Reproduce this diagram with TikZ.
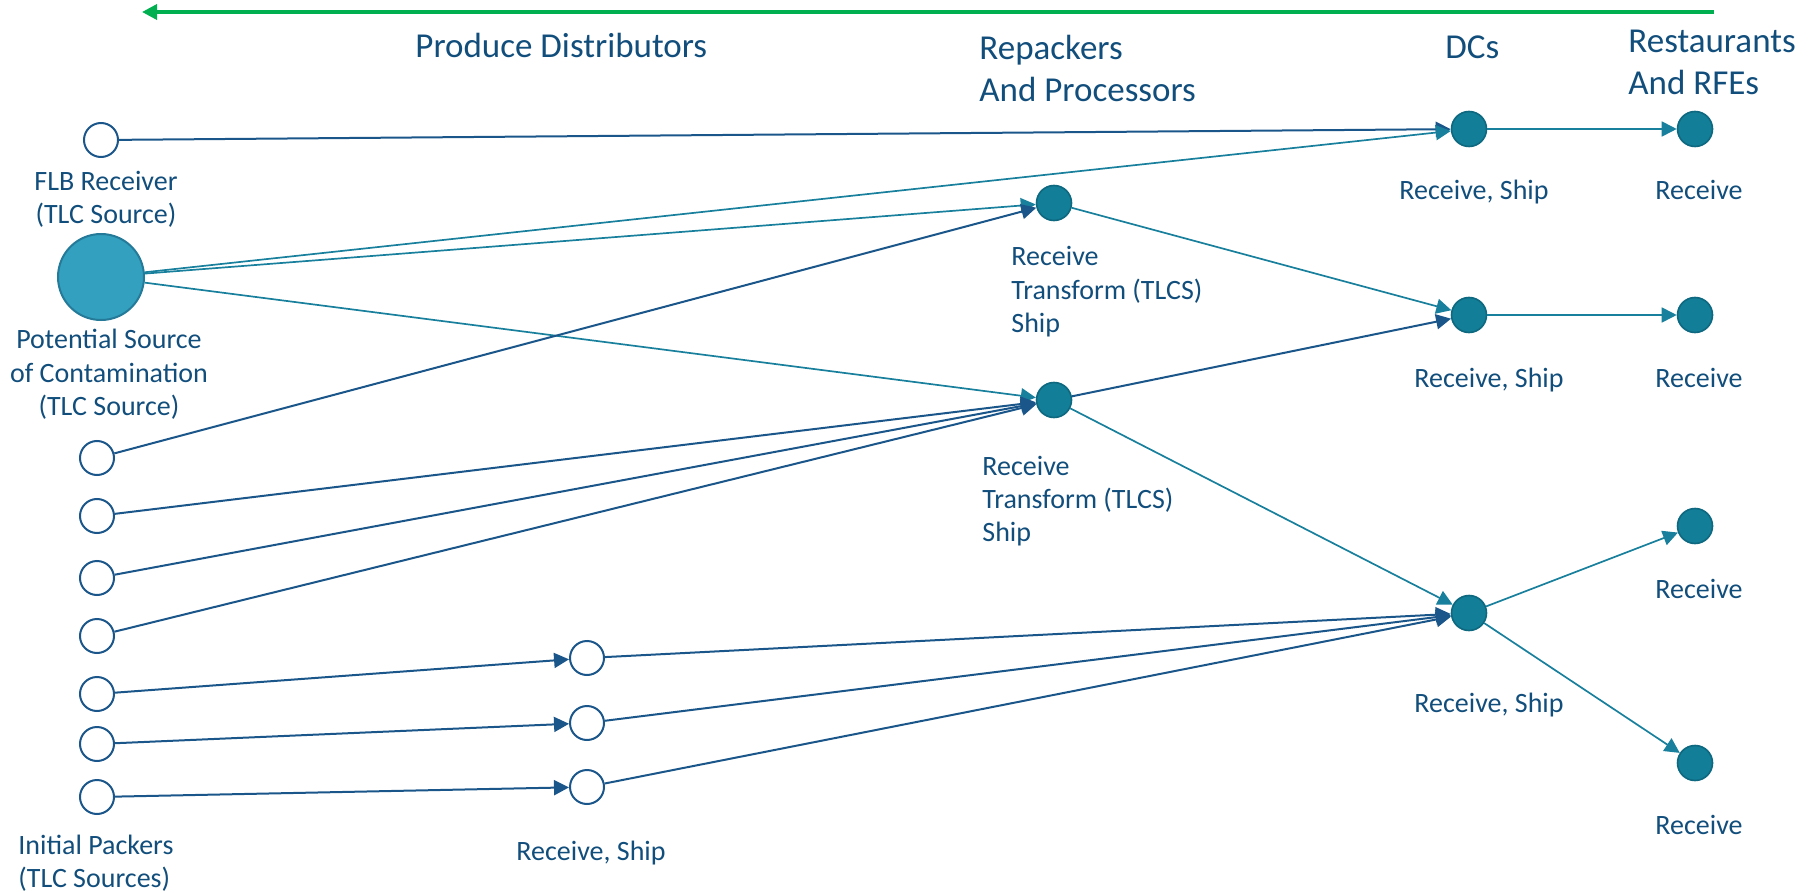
\documentclass[tikz,border=0pt]{standalone}
\usepackage{fontspec}
\setmainfont{Carlito}
\usepackage{xcolor}
\usepackage{tikz}
\usetikzlibrary{arrows.meta}

\begin{document}
\begin{tikzpicture}[x=0.5pt, y=-0.5pt]
    % --- GLOBAL DEFINITIONS ---
    % Custom colors
    \definecolor{textblue}{RGB}{18, 78, 124}
    \definecolor{linkblue}{RGB}{27, 86, 138}
    \definecolor{linkteal}{RGB}{24, 128, 156}
    \definecolor{nodeteal}{RGB}{18, 126, 151}
    \definecolor{nodeedge}{RGB}{14, 104, 128}
    \definecolor{sourcefill}{RGB}{50, 160, 190}
    \definecolor{sourceedge}{RGB}{36, 122, 152}
    \definecolor{flowgreen}{RGB}{0, 176, 80}

    % Node shapes, links and text
    \tikzset{
        opennode/.style={circle, draw=linkblue, fill=white, line width=1pt, minimum size=17pt, inner sep=0pt},
        fullnode/.style={circle, draw=nodeedge, fill=nodeteal, line width=0.8pt, minimum size=17.5pt, inner sep=0pt},
        sourcenode/.style={circle, draw=sourceedge, fill=sourcefill, line width=1pt, minimum size=43pt, inner sep=0pt},
        darklink/.style={-{Triangle[length=7.5pt, width=7.5pt]}, draw=linkblue, fill=linkblue, line width=1pt},
        teallink/.style={-{Triangle[length=7.5pt, width=7.5pt]}, draw=linkteal, fill=linkteal, line width=0.85pt},
        flowarrow/.style={-{Triangle[length=7.5pt, width=7.5pt]}, draw=flowgreen, fill=flowgreen, line width=1.75pt},
        label/.style={text=textblue, inner sep=0pt, font=\fontsize{14}{16.5}\selectfont},
        header/.style={text=textblue, inner sep=0pt, font=\fontsize{17.5}{21.2}\selectfont}
    }

    \useasboundingbox (0,0) rectangle (1820,893);

    % FLOW DIRECTION
    \coordinate (flowR) at (1714,12);
    \coordinate (flowL) at (142,12);
    \draw[flowarrow] (flowR) -- (flowL);

    % HEADERS (base = last line)
    \node[header, anchor=base west] (hdprod) at (415,58) {Produce Distributors};
    \node[header, anchor=base west, align=left] (hdrep) at (979,102) {Repackers\\And Processors};
    \node[header, anchor=base west] (hddc) at (1445,59) {DCs};
    \node[header, anchor=base west, align=left] (hdrest) at (1628,95) {Restaurants\\And RFEs};

    % SOURCES
    \node[opennode] (flb) at (101,140) {};
    \node[sourcenode] (src) at (101,277) {};
    \node[opennode] (pk1) at (97,458) {};
    \node[opennode] (pk2) at (97,516) {};
    \node[opennode] (pk3) at (97,578) {};
    \node[opennode] (pk4) at (97,636) {};
    \node[opennode] (pk5) at (97,694) {};
    \node[opennode] (pk6) at (97,744) {};
    \node[opennode] (pk7) at (97,797) {};

    % PRODUCE DISTRIBUTORS
    \node[opennode] (rs1) at (587,658) {};
    \node[opennode] (rs2) at (587,723) {};
    \node[opennode] (rs3) at (587,787) {};

    % REPACKERS
    \node[fullnode] (rp1) at (1054,203) {};
    \node[fullnode] (rp2) at (1054,400) {};

    % DCS
    \node[fullnode] (dc1) at (1469,129) {};
    \node[fullnode] (dc2) at (1469,315) {};
    \node[fullnode] (dc3) at (1469,613) {};

    % RESTAURANTS
    \node[fullnode] (rt1) at (1695,129) {};
    \node[fullnode] (rt2) at (1695,315) {};
    \node[fullnode] (rt3) at (1695,526) {};
    \node[fullnode] (rt4) at (1695,763) {};

    % LINKS
    \draw[darklink] (flb) -- (dc1);
    \draw[teallink] (src) -- (dc1);
    \draw[teallink] (src) -- (rp1);
    \draw[teallink] (src) -- (rp2);
    \draw[darklink] (pk1) -- (rp1);
    \draw[darklink] (pk2) -- (rp2);
    \draw[darklink] (pk3) -- (rp2);
    \draw[darklink] (pk4) -- (rp2);
    \draw[darklink] (pk5) -- (rs1);
    \draw[darklink] (pk6) -- (rs2);
    \draw[darklink] (pk7) -- (rs3);
    \draw[darklink] (rs1) -- (dc3);
    \draw[darklink] (rs2) -- (dc3);
    \draw[darklink] (rs3) -- (dc3);
    \draw[teallink] (rp1) -- (dc2);
    \draw[darklink] (rp2) -- (dc2);
    \draw[teallink] (rp2) -- (dc3);
    \draw[teallink] (dc1) -- (rt1);
    \draw[teallink] (dc2) -- (rt2);
    \draw[teallink] (dc3) -- (rt3);
    \draw[teallink] (dc3) -- (rt4);

    % LABELS (base = last line)
    \node[label, anchor=base, align=center] (lbflb) at (106,224) {FLB Receiver\\(TLC Source)};
    \node[label, anchor=base, align=center] (lbsrc) at (109,415) {Potential Source\\of Contamination\\(TLC Source)};
    \node[label, anchor=base west, align=left] (lbpk) at (18,887) {Initial Packers\\(TLC Sources)};
    \node[label, anchor=base] (lbrs) at (591,860) {Receive, Ship};
    \node[label, anchor=base west, align=left] (lbrp1) at (1011,332) {Receive\\Transform (TLCS)\\Ship};
    \node[label, anchor=base west, align=left] (lbrp2) at (982,541) {Receive\\Transform (TLCS)\\Ship};
    \node[label, anchor=base] (lbdc1) at (1474,200) {Receive, Ship};
    \node[label, anchor=base] (lbdc2) at (1489,387) {Receive, Ship};
    \node[label, anchor=base] (lbdc3) at (1489,712) {Receive, Ship};
    \node[label, anchor=base] (lbrt1) at (1699,200) {Receive};
    \node[label, anchor=base] (lbrt2) at (1699,387) {Receive};
    \node[label, anchor=base] (lbrt3) at (1699,598) {Receive};
    \node[label, anchor=base] (lbrt4) at (1699,834) {Receive};
\end{tikzpicture}
\end{document}
